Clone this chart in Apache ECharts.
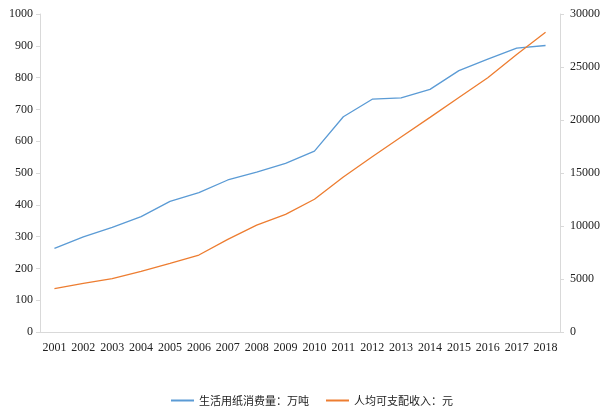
<!DOCTYPE html>
<html><head><meta charset="utf-8">
<script src="https://cdn.jsdelivr.net/npm/echarts@6/dist/echarts.min.js"></script>
<style>html,body{margin:0;padding:0;background:#fff;}#c{width:603px;height:415px;}</style>
</head><body><div id="c"></div>
<script>
const years = ['2001','2002','2003','2004','2005','2006','2007','2008','2009','2010','2011','2012','2013','2014','2015','2016','2017','2018'];
const paperUse = [263, 299, 329, 363, 411, 438, 478, 503, 530, 569, 677, 732, 736, 763, 822, 858, 893, 901];
const income = [4100, 4590, 5030, 5720, 6480, 7260, 8740, 10090, 11100, 12520, 14620, 16540, 18400, 20250, 22120, 23990, 26170, 28270];
const seriesNames = ['生活用纸消费量：万吨', '人均可支配收入：元'];

const chart = echarts.init(document.getElementById('c'));
const axisFont = {fontFamily: '"Liberation Serif", "Times New Roman", serif', fontSize: 12, color: '#222'};
const plain = v => String(v);
chart.setOption({
  animation: false,
  color: ['#5b9bd5', '#ed7d31'],
  grid: {left: 40, right: 39, top: 14, bottom: 83},
  legend: {
    bottom: 4, left: 166, itemWidth: 23, itemHeight: 2, itemGap: 17,
    icon: 'rect',
    textStyle: {fontFamily: '"Noto Sans CJK SC", sans-serif', fontSize: 11, color: '#222'},
    data: seriesNames
  },
  xAxis: {
    type: 'category', data: years, boundaryGap: true,
    axisLine: {lineStyle: {color: '#d9d9d9'}},
    axisTick: {show: false},
    axisLabel: Object.assign({margin: 10, interval: 0}, axisFont)
  },
  yAxis: [
    {type: 'value', min: 0, max: 1000, interval: 100,
     axisLine: {show: true, lineStyle: {color: '#d9d9d9'}},
     axisTick: {show: true, length: 4, lineStyle: {color: '#d9d9d9'}},
     splitLine: {show: false},
     axisLabel: Object.assign({margin: 7, formatter: plain}, axisFont)},
    {type: 'value', min: 0, max: 30000, interval: 5000,
     axisLine: {show: true, lineStyle: {color: '#d9d9d9'}},
     axisTick: {show: true, length: 4, lineStyle: {color: '#d9d9d9'}},
     splitLine: {show: false},
     axisLabel: Object.assign({margin: 10, formatter: plain}, axisFont)}
  ],
  series: [
    {name: seriesNames[0], type: 'line', yAxisIndex: 0, data: paperUse, symbol: 'none', lineStyle: {width: 1.3}},
    {name: seriesNames[1], type: 'line', yAxisIndex: 1, data: income, symbol: 'none', lineStyle: {width: 1.3}}
  ]
});
</script></body></html>
